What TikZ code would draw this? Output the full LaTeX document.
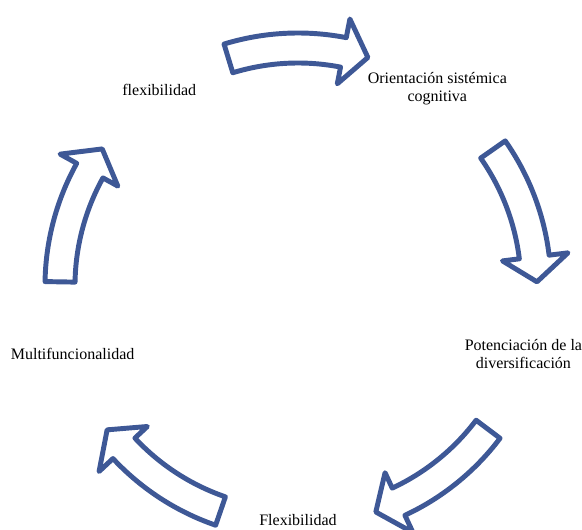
\documentclass[tikz,border=0pt]{standalone}
\usepackage{fontspec}
\setmainfont{Liberation Serif}
\definecolor{cycblue}{RGB}{62,88,150}
% curved block arrow centred on angle #1
\newcommand{\cycarrow}[1]{%
  \draw[cyc arrow] (#1+17:253) arc[start angle=#1+17, end angle=#1-11, radius=253]
    -- (#1-11:272) -- (#1-17:239) -- (#1-11:206) -- (#1-11:223)
    arc[start angle=#1-11, end angle=#1+17, radius=223] -- cycle;}

\begin{document}
\begin{tikzpicture}%
  [x=0.75pt, y=0.75pt, node font=\fontsize{12}{13.5}\selectfont,
   cyc arrow/.style={draw=cycblue, fill=white, line width=3.7pt, line join=round},
   cyc label/.style={align=center, text=black, yshift=4pt}]

  \useasboundingbox (-298,-243) rectangle (284,286);

  \foreach \a in {90,18,-54,-126,-198} {\cycarrow{\a}}

  \node (flex) at (126:236) [cyc label] {flexibilidad};
  \node (orient) at (54:237) [cyc label] {Orientación sistémica\\cognitiva};
  \node (poten) at (-18:237) [cyc label] {Potenciación de la\\diversificación};
  \node (Flex) at (-90:237) [cyc label, yshift=-1.5pt] {Flexibilidad};
  \node (multi) at (-162:237) [cyc label] {Multifuncionalidad};

\end{tikzpicture}
\end{document}
